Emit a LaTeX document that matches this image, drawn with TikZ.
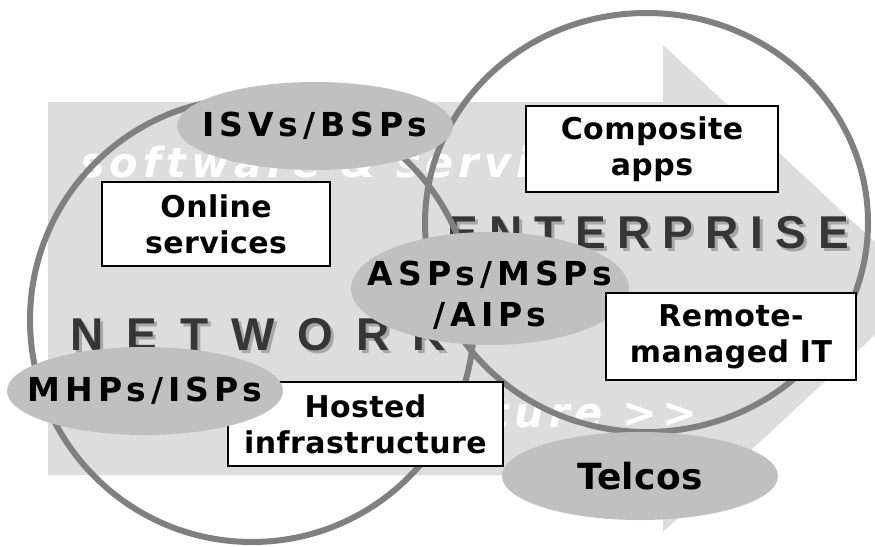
\documentclass[tikz,border=0pt]{standalone}
\usepackage{fontspec}
\setmainfont{DejaVu Sans}
\usetikzlibrary{shapes.geometric}

\definecolor{panel}{HTML}{DDDDDD}
\definecolor{ring}{HTML}{808080}
\definecolor{blob}{HTML}{C0C0C0}
\definecolor{bigtext}{HTML}{363636}
\definecolor{bigshade}{HTML}{A8A8A8}

\newfontfamily\blobfont[LetterSpace=15]{DejaVu Sans}
\newfontfamily\telfont[LetterSpace=1]{DejaVu Sans}
\newfontfamily\boxfont[LetterSpace=1.5]{DejaVu Sans}
\newfontfamily\netfont[LetterSpace=50]{Liberation Sans}
\newfontfamily\entfont[LetterSpace=26]{Liberation Sans}
\newfontfamily\flowfont[LetterSpace=12]{DejaVu Sans}

\tikzset{
  ringline/.style={draw=ring, line width=6pt, inner sep=0pt},
  blob/.style={ellipse, fill=blob, inner sep=0pt, minimum width=276pt,
    minimum height=88pt},
  bloblabel/.style={inner sep=0pt, align=center,
    font={\blobfont\bfseries\fontsize{33}{41}\selectfont}},
  card/.style={rectangle, draw=black, line width=2pt, fill=white, inner sep=0pt,
    align=center, font={\boxfont\bfseries\fontsize{30}{36}\selectfont}},
  flow/.style={text=white, inner sep=0pt,
    font={\flowfont\bfseries\itshape\fontsize{41.5}{46}\selectfont}},
  netword/.style={inner sep=0pt, anchor=base west,
    font={\netfont\bfseries\fontsize{46}{50}\selectfont}},
  entword/.style={inner sep=0pt, anchor=base west,
    font={\entfont\bfseries\fontsize{46}{50}\selectfont}}
}

\begin{document}
\begin{tikzpicture}[x=1pt, y=-1pt]
  \useasboundingbox (0,0) rectangle (875,546);
  \clip (0,0) rectangle (875,546);
  \fill[white] (0,0) rectangle (875,546);

  % broad background arrow
  \fill[panel] (48,102) -- (663,102) -- (663,45) -- (925,288.5)
    -- (663,532) -- (663,475) -- (48,475) -- cycle;

  % white captions running along the arrow
  \node[flow, anchor=base west] (flowtop) at (80,177) {software \& services};
  \node[flow, anchor=base east] (flowbot) at (697,427) {infrastructure {>}{>}};

  % shaded titles
  \node[netword, text=bigshade] (netshade) at (73,353) {NETWORK};
  \node[netword, text=bigtext] (net) at (70,350) {NETWORK};
  \node[entword, text=bigshade] (entshade) at (450,251) {ENTERPRISE};
  \node[entword, text=bigtext] (ent) at (447,248) {ENTERPRISE};

  % the two rings
  \node[ringline, circle, minimum size=444pt] (netring) at (252,320) {};
  \node[ringline, ellipse, minimum width=443pt, minimum height=419pt]
    (entring) at (646.5,222.5) {};

  % box sitting under the provider ellipse
  \node[card, minimum width=275pt, minimum height=84pt] (hosted)
    at (365.5,424) {Hosted\\infrastructure};

  % provider ellipses and their labels
  \node[blob] (isv) at (315,126) {};
  \node[bloblabel] (isvtext) at (isv.center) {ISVs/BSPs};
  \node[blob, minimum width=278pt, minimum height=113pt] (asp) at (490,288.5) {};
  \node[bloblabel] (asptext) at ([yshift=-7pt]asp.center) {ASPs/MSPs\\/AIPs};
  \node[blob] (mhp) at (145,391) {};
  \node[bloblabel] (mhptext) at (mhp.center) {MHPs/ISPs};
  \node[blob] (tel) at (640,476) {};
  \node[bloblabel, font={\telfont\bfseries\fontsize{36}{40}\selectfont}]
    (teltext) at (tel.center) {Telcos};

  % offering boxes
  \node[card, minimum width=228pt, minimum height=84pt] (online)
    at (216,224) {Online\\services};
  \node[card, minimum width=252pt, minimum height=86pt] (comp)
    at (652,149) {Composite\\apps};
  \node[card, minimum width=250pt, minimum height=87pt] (remote)
    at (731,336.5) {Remote-\\managed IT};
\end{tikzpicture}
\end{document}
